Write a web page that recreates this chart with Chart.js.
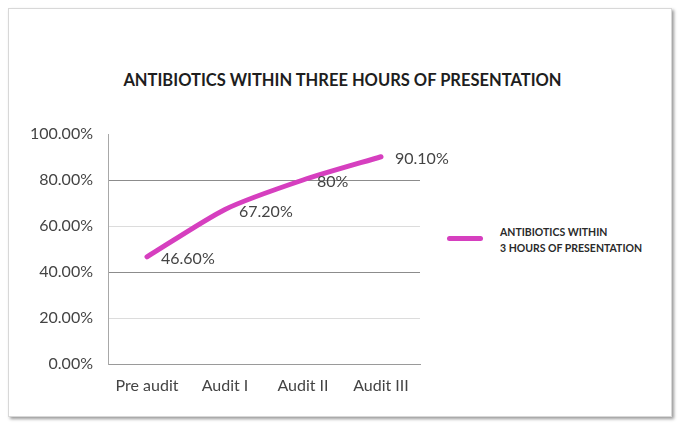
<!DOCTYPE html>
<html>
<head>
<meta charset="utf-8">
<script src="https://cdn.jsdelivr.net/npm/chart.js@4.4.0/dist/chart.umd.min.js"></script>
<style>
  html, body { margin: 0; padding: 0; background: #fff; }
  #wrap { position: relative; width: 685px; height: 426px; }
  #frame {
    position: absolute; left: 8px; top: 8px; width: 662px; height: 407px;
    border: 1px solid #d8d8d8; box-shadow: 2px 2px 3px #9a9a9a; background: #fff;
  }
  #title {
    position: absolute; left: 0; width: 685px; top: 70px; text-align: center;
    font: bold 16.5px Lato, sans-serif; color: #1e1e1e;
  }
  #legend {
    position: absolute; left: 447px; top: 224px;
    font: bold 10.5px Lato, sans-serif; color: #2a2a2a; line-height: 16px;
  }
  #legend .swatch {
    position: absolute; left: 0; top: 12px; width: 36px; height: 5px;
    border-radius: 3px; background: #d63fbf;
  }
  #legend .text { margin-left: 53px; }
  canvas { position: absolute; left: 0; top: 0; }
</style>
</head>
<body>
<div id="wrap">
  <div id="frame"></div>
  <div id="title">ANTIBIOTICS WITHIN THREE HOURS OF PRESENTATION</div>
  <div id="legend">
    <div class="swatch"></div>
    <div class="text">ANTIBIOTICS WITHIN<br>3 HOURS OF PRESENTATION</div>
  </div>
  <canvas id="auditChart" width="685" height="426"></canvas>
</div>
<script>
// Chart data
const categories = ['Pre audit', 'Audit I', 'Audit II', 'Audit III'];
const antibioticValues = [46.6, 67.2, 80, 90.1];
const valueLabels = ['46.60%', '67.20%', '80%', '90.10%'];
const yTicks = [0, 20, 40, 60, 80, 100];

// Draws the value next to each point
const pointLabels = {
  id: 'pointLabels',
  afterDatasetsDraw(chart) {
    const ctx = chart.ctx;
    const meta = chart.getDatasetMeta(0);
    ctx.save();
    ctx.font = '16px Lato, sans-serif';
    ctx.fillStyle = '#444';
    ctx.textAlign = 'left';
    ctx.textBaseline = 'middle';
    meta.data.forEach((pt, i) => {
      ctx.fillText(valueLabels[i], pt.x + 14, pt.y + 2);
    });
    ctx.restore();
  }
};

const ctx = document.getElementById('auditChart').getContext('2d');

new Chart(ctx, {
  type: 'line',
  data: {
    labels: categories,
    datasets: [{
      label: 'ANTIBIOTICS WITHIN 3 HOURS OF PRESENTATION',
      data: antibioticValues,
      borderColor: '#d63fbf',
      borderWidth: 5,
      borderCapStyle: 'round',
      pointRadius: 0,
      tension: 0.22,
      fill: false
    }]
  },
  options: {
    responsive: false,
    animation: false,
    layout: { padding: { left: 6, top: 134, right: 265, bottom: 22 } },
    plugins: {
      legend: { display: false },
      tooltip: { enabled: false }
    },
    scales: {
      x: {
        offset: true,
        grid: { display: false, drawTicks: false },
        border: { color: '#9a9a9a', width: 1 },
        ticks: { color: '#444', font: { family: 'Lato', size: 16 }, padding: 12 },
        afterFit(scale) { scale.height = 40; }
      },
      y: {
        min: 0,
        max: 100,
        afterBuildTicks(scale) { scale.ticks = yTicks.map(v => ({ value: v })); },
        grid: {
          drawTicks: false,
          color(c) {
            const v = c.tick.value;
            if (v === 80 || v === 40) return '#8c8c8c';
            if (v === 60 || v === 20) return '#dcdcdc';
            return 'rgba(0,0,0,0)';
          }
        },
        border: { color: '#a8a8a8', width: 1 },
        ticks: {
          color: '#444',
          font: { family: 'Lato', size: 16 },
          padding: 15,
          callback: v => v.toFixed(2) + '%'
        },
        afterFit(scale) { scale.width = 102; }
      }
    }
  },
  plugins: [pointLabels]
});
</script>
</body>
</html>
